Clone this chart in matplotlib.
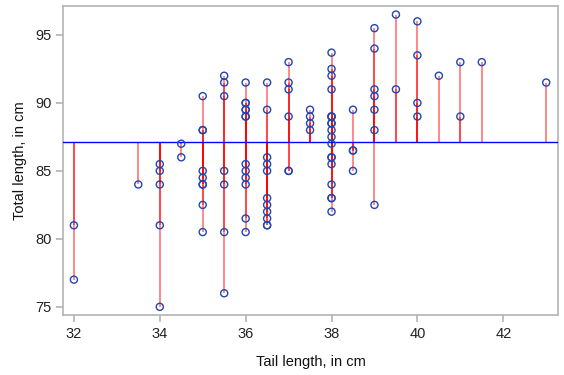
import numpy as np
import matplotlib
matplotlib.use("Agg")
import matplotlib.pyplot as plt

# Tail length (x) and total length (y), in cm
tail = [32, 32,
        33.5,
        34, 34, 34, 34, 34,
        34.5, 34.5,
        35, 35, 35, 35, 35, 35, 35, 35, 35,
        35.5, 35.5, 35.5, 35.5, 35.5, 35.5, 35.5,
        36, 36, 36, 36, 36, 36, 36, 36, 36, 36, 36, 36, 36,
        36.5, 36.5, 36.5, 36.5, 36.5, 36.5, 36.5, 36.5, 36.5, 36.5, 36.5,
        37, 37, 37, 37, 37, 37,
        37.5, 37.5, 37.5, 37.5,
        38, 38, 38, 38, 38, 38, 38, 38, 38, 38, 38, 38, 38, 38, 38, 38, 38, 38, 38,
        38.5, 38.5, 38.5, 38.5,
        39, 39, 39, 39, 39, 39, 39,
        39.5, 39.5,
        40, 40, 40, 40,
        40.5,
        41, 41,
        41.5,
        43]
total = [81, 77,
         84,
         85.5, 85, 84, 81, 75,
         87, 86,
         90.5, 88, 88, 85, 84.5, 84, 84, 82.5, 80.5,
         92, 91.5, 90.5, 85, 84, 80.5, 76,
         91.5, 90, 90, 89.5, 89.5, 89, 89, 85.5, 85, 84.5, 84, 81.5, 80.5,
         91.5, 89.5, 86, 85.5, 85, 83, 82.5, 82, 81.5, 81, 81,
         93, 91.5, 91, 89, 85, 85,
         89.5, 89, 88.5, 88,
         93.7, 92.5, 92, 91, 89, 89, 89, 88.5, 88.5, 88, 87.5, 87, 86, 86, 85.5, 84, 83, 83, 82,
         89.5, 86.5, 86.5, 85,
         95.5, 94, 91, 90.5, 89.5, 88, 82.5,
         96.5, 91,
         96, 93.5, 90, 89,
         92,
         93, 89,
         93,
         91.5]
baseline = 87.1  # horizontal reference line

x_ticks = [32, 34, 36, 38, 40, 42]
y_ticks = [75, 80, 85, 90, 95]

plt.rcParams['font.family'] = ['Liberation Sans', 'DejaVu Sans']

fig = plt.figure(figsize=(5.64, 3.75), dpi=100)
ax = fig.add_axes([0.112, 0.16, 0.877, 0.824])

# needles from the reference line to each point
ax.vlines(tail, baseline, total, colors='red', alpha=0.5, linewidth=1.3, zorder=2)
ax.axhline(baseline, color='#0000ff', linewidth=1, zorder=3)
ax.scatter(tail, total, s=26, facecolors='none', edgecolors='#2245b0', linewidths=1, zorder=4)

ax.set_xlim(31.75, 43.27)
ax.set_ylim(74.4, 97.13)
ax.set_xticks(x_ticks)
ax.set_yticks(y_ticks)

for sp in ax.spines.values():
    sp.set_color('#b4b4b4')
    sp.set_linewidth(1.2)
ax.tick_params(colors='#b4b4b4', labelcolor='#222222', length=5, width=1.2, labelsize=10.5)

ax.set_xlabel('Tail length, in cm', fontsize=10.5, color='#111111', labelpad=10)
ax.set_ylabel('Total length, in cm', fontsize=10.5, color='#111111', labelpad=6)

fig.savefig('out.png', dpi=100)
